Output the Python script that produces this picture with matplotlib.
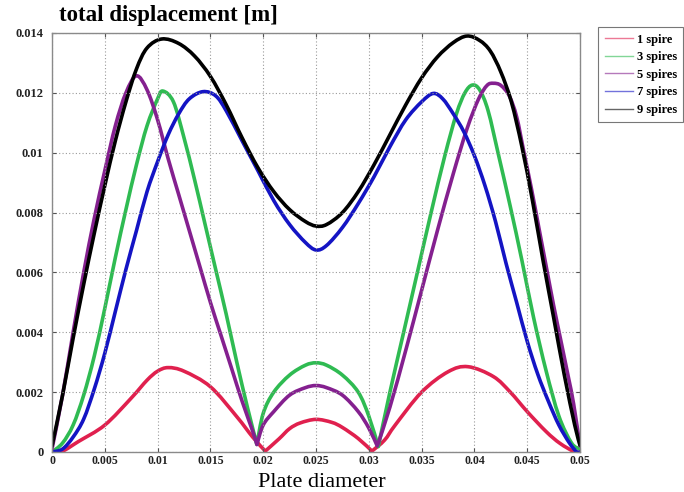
import matplotlib
matplotlib.use("Agg")
import numpy as np
import matplotlib.pyplot as plt
from matplotlib.path import Path
from matplotlib.patches import PathPatch
from matplotlib.lines import Line2D

# sampled points along each curve (plate position [m], displacement [m])
x_1 = [0, 0.001, 0.0025, 0.005, 0.0075, 0.009, 0.01, 0.011, 0.0125, 0.015, 0.0175, 0.019,
       0.0202, 0.0215, 0.0225, 0.0235, 0.025, 0.0265, 0.0275, 0.029, 0.0303, 0.0315, 0.0325,
       0.035, 0.0375, 0.0394, 0.0418, 0.0434, 0.045, 0.0468, 0.0481, 0.0495, 0.05]
y_1 = [0, 0.00003, 0.00035, 0.0009, 0.0018, 0.0024, 0.0027, 0.00282, 0.0027, 0.00218, 0.00118, 0.0005,
       0.00003, 0.00044, 0.00078, 0.00097, 0.00109, 0.00099, 0.00082, 0.00045, 0.00003, 0.0004, 0.0009,
       0.002, 0.00268, 0.00285, 0.00252, 0.002, 0.00135, 0.00068, 0.00029, 0, 0]

x_3 = [0, 0.001, 0.002, 0.003, 0.004, 0.005, 0.006, 0.007, 0.008, 0.009, 0.01, 0.0105,
       0.0115, 0.0125, 0.0135, 0.0145, 0.0155, 0.0165, 0.0175, 0.0185, 0.0194,
       0.02, 0.021, 0.0225, 0.024, 0.025, 0.026, 0.0275, 0.029, 0.03, 0.0309,
       0.032, 0.0333, 0.0346, 0.0359, 0.0372, 0.0383, 0.0391, 0.0398, 0.0405, 0.0413, 0.0423,
       0.0434, 0.0445, 0.0456, 0.0468, 0.048, 0.0492, 0.05]
y_3 = [0, 0.0003, 0.0009, 0.0019, 0.0032, 0.0048, 0.0065, 0.0081, 0.0096, 0.0109, 0.0118, 0.01206,
       0.0117, 0.0105, 0.0091, 0.0076, 0.0061, 0.0046, 0.003, 0.0015, 0.00025,
       0.00129, 0.002, 0.00257, 0.0029, 0.00298, 0.0029, 0.00257, 0.002, 0.0012, 0.00018,
       0.002, 0.004, 0.006, 0.008, 0.0099, 0.0113, 0.012, 0.01226, 0.0121, 0.0114, 0.0099,
       0.0082, 0.0064, 0.0045, 0.0027, 0.0012, 0.0003, 0.0001]

x_5 = [0, 0.001, 0.002, 0.003, 0.004, 0.005, 0.006, 0.007, 0.008, 0.009, 0.01, 0.011, 0.012,
       0.013, 0.014, 0.015, 0.016, 0.017, 0.018, 0.019, 0.0194,
       0.02, 0.021, 0.0225, 0.024, 0.025, 0.026, 0.0275, 0.029, 0.03, 0.0308,
       0.032, 0.0335, 0.035, 0.0365, 0.038, 0.0393, 0.0404, 0.0412, 0.0418, 0.0425, 0.0433,
       0.044, 0.0447, 0.0454, 0.0461, 0.0468, 0.0475, 0.0482, 0.0489, 0.0494, 0.05]
y_5 = [0.0001, 0.0019, 0.004, 0.006, 0.0078, 0.0094, 0.0109, 0.012, 0.01257, 0.0121, 0.0111, 0.0098, 0.0086,
       0.0074, 0.0062, 0.005, 0.0039, 0.0028, 0.0017, 0.0007, 0.00025,
       0.0009, 0.00135, 0.0019, 0.00215, 0.00222, 0.00215, 0.0019, 0.00135, 0.0008, 0.0002,
       0.0015, 0.0034, 0.0054, 0.0074, 0.0093, 0.0108, 0.0118, 0.01225, 0.01232, 0.01225, 0.0119,
       0.0112, 0.01, 0.0088, 0.0075, 0.0062, 0.0049, 0.0037, 0.0025, 0.0016, 0.0002]

x_7 = [0, 0.001, 0.002, 0.003, 0.004, 0.005, 0.006, 0.007, 0.008, 0.009, 0.01, 0.011, 0.012,
       0.013, 0.0143, 0.0155, 0.0165, 0.018, 0.0195, 0.021, 0.0225, 0.024, 0.025, 0.026,
       0.0275, 0.029, 0.0305, 0.032, 0.0335, 0.035, 0.0361, 0.037, 0.038, 0.039, 0.04, 0.041,
       0.042, 0.043, 0.044, 0.045, 0.046, 0.047, 0.048, 0.049, 0.0497, 0.05]
y_7 = [0, 0.0001, 0.0005, 0.0011, 0.0021, 0.0033, 0.0047, 0.0061, 0.0074, 0.0087, 0.0097, 0.0106, 0.0113,
       0.0118, 0.01204, 0.0119, 0.0114, 0.0104, 0.0094, 0.0084, 0.0076, 0.007, 0.00675, 0.0069,
       0.0075, 0.0083, 0.0092, 0.0102, 0.0111, 0.0117, 0.01198, 0.0118, 0.0113, 0.0107, 0.0099, 0.0089,
       0.0077, 0.0063, 0.005, 0.0037, 0.0026, 0.0017, 0.0009, 0.0003, 0, 0]

x_9 = [0, 0.001, 0.002, 0.003, 0.004, 0.005, 0.006, 0.007, 0.008, 0.009, 0.0104,
       0.012, 0.0135, 0.015, 0.0165, 0.018, 0.0195, 0.021, 0.0225, 0.024, 0.025, 0.026,
       0.0275, 0.029, 0.0305, 0.032, 0.0335, 0.035, 0.0365, 0.038, 0.0393, 0.0405, 0.0415,
       0.0425, 0.0435, 0.0445, 0.0455, 0.0465, 0.0475, 0.0485, 0.0495, 0.05]
y_9 = [0.0002, 0.0019, 0.0038, 0.0056, 0.0073, 0.0089, 0.0104, 0.0117, 0.0128, 0.0135, 0.0138,
       0.01365, 0.01323, 0.01255, 0.0116, 0.0105, 0.0095, 0.0087, 0.0081, 0.0077, 0.00755, 0.0076,
       0.008, 0.0087, 0.0096, 0.0106, 0.0116, 0.0125, 0.0132, 0.01368, 0.0139, 0.01375, 0.0134,
       0.0127, 0.0117, 0.0102, 0.0084, 0.0064, 0.0045, 0.0026, 0.0009, 0.00023]

labels = ["1 spire", "3 spires", "5 spires", "7 spires", "9 spires"]
colors = ["#e0204e", "#2fbb52", "#84208f", "#1414c4", "#000000"]

x_ticks = [0, 0.005, 0.01, 0.015, 0.02, 0.025, 0.03, 0.035, 0.04, 0.045, 0.05]
x_ticklabels = ["0", "0.005", "0.01", "0.015", "0.02", "0.025", "0.03", "0.035", "0.04", "0.045", "0.05"]
y_ticks = [0, 0.002, 0.004, 0.006, 0.008, 0.01, 0.012, 0.014]
y_ticklabels = ["0", "0.002", "0.004", "0.006", "0.008", "0.01", "0.012", "0.014"]


def smooth_path(xs, ys):
    """Catmull-Rom style Bezier path through the points, kept sharp at the nodal dips."""
    pts = np.column_stack([xs, ys])
    n = len(pts)
    cusps = [i for i in range(1, n - 1)
             if ys[i] < ys[i - 1] and ys[i] < ys[i + 1] and ys[i] < 0.0005]
    cuts = [0] + cusps + [n - 1]
    verts, codes = [pts[0]], [Path.MOVETO]
    for a, b in zip(cuts[:-1], cuts[1:]):
        seg = pts[a:b + 1]
        m = len(seg)
        for i in range(m - 1):
            p0 = seg[i - 1] if i > 0 else seg[i]
            p3 = seg[i + 2] if i + 2 < m else seg[i + 1]
            c1 = seg[i] + (seg[i + 1] - p0) / 6
            c2 = seg[i + 1] - (p3 - seg[i]) / 6
            verts += [c1, c2, seg[i + 1]]
            codes += [Path.CURVE4] * 3
    return Path(verts, codes)


plt.rcParams["font.family"] = ["Liberation Serif", "DejaVu Serif"]

fig = plt.figure(figsize=(6.84, 4.92), dpi=100)
ax = fig.add_axes([52 / 684, 1 - 452 / 492, 528 / 684, 419 / 492])

series = [(x_1, y_1), (x_3, y_3), (x_5, y_5), (x_7, y_7), (x_9, y_9)]
for (xs, ys), c in zip(series, colors):
    ax.add_patch(PathPatch(smooth_path(xs, ys), facecolor="none", edgecolor=c, lw=2.6,
                           joinstyle="round", capstyle="round", transform=ax.transData))

ax.set_xlim(0, 0.05)
ax.set_ylim(0, 0.014)
ax.set_xticks(x_ticks)
ax.set_xticklabels(x_ticklabels)
ax.set_yticks(y_ticks)
ax.set_yticklabels(y_ticklabels)
ax.tick_params(direction="in", length=3, width=0.8, colors="#555555", labelcolor="#222222",
               top=True, right=True, labelsize=9)
ax.tick_params(axis="y", pad=6)
ax.tick_params(axis="x", pad=2.5, labelsize=8.5)
for t in ax.get_xticklabels() + ax.get_yticklabels():
    t.set_fontweight("bold")
ax.grid(True, linestyle=(0, (1, 2)), color="#9a9a9a", lw=0.8)
for s in ax.spines.values():
    s.set_color("#8a8a8a")
    s.set_linewidth(1.0)

fig.text(59 / 684, 1 - 16 / 492, "total displacement [m]", fontsize=16.5, fontweight="bold",
         ha="left", va="center")
fig.text(322 / 684, 0.0, "Plate diameter", fontsize=16, ha="center", va="bottom")

handles = [Line2D([], [], color=c, lw=1.0, alpha=0.6) for c in colors]
leg = fig.legend(handles, labels, loc="upper left", bbox_to_anchor=(592 / 684, 1 - 21 / 492),
                 prop={"weight": "bold", "size": 9}, handlelength=2.3, handletextpad=0.3,
                 labelspacing=0.45, borderpad=0.5, fancybox=False, framealpha=1)
leg.get_frame().set_edgecolor("#777777")
leg.get_frame().set_linewidth(0.8)

fig.savefig("out.png", dpi=100)
